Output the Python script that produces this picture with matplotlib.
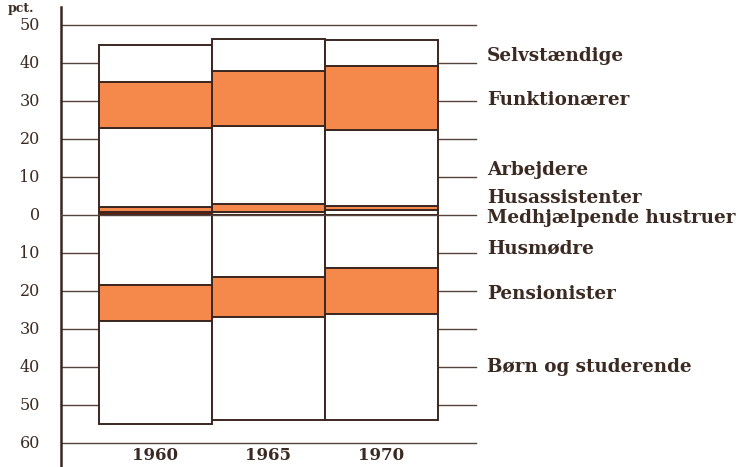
import numpy as np
import matplotlib
matplotlib.use("Agg")
import matplotlib.pyplot as plt

# data (pct.), above zero: erhvervsaktive, below zero: ikke-erhvervsaktive
years = ["1960", "1965", "1970"]
medhjaelpende = [0.8, 0.8, 1.4]
husassistenter = [1.4, 2.0, 1.0]
arbejdere = [20.8, 20.6, 20.0]
funktionaerer = [12.1, 14.5, 16.7]
selvstaendige = [9.7, 8.4, 7.0]
husmoedre = [18.3, 16.2, 14.0]
pensionister = [9.5, 10.6, 12.1]
boern = [27.2, 27.0, 27.8]

yticks = [50, 40, 30, 20, 10, 0, -10, -20, -30, -40, -50, -60]

labels = ["Selvstændige", "Funktionærer", "Arbejdere", "Husassistenter",
          "Medhjælpende hustruer", "Husmødre", "Pensionister", "Børn og studerende"]
label_y = [41.8, 30.3, 11.8, 4.6, -0.9, -8.7, -20.8, -40.0]

ORANGE = "#f5894b"
EDGE = "#3b2620"
TXT = "#3b2a22"
DARK = "#6b1e0e"

fig = plt.figure(figsize=(7.4, 4.67), dpi=100)
ax = fig.add_axes([0, 0, 1, 1])
ax.set_xlim(-1.372, 5.177)
ax.set_ylim(-66.3, 56.6)
ax.axis("off")

x = np.arange(len(years))
kw = dict(width=1.0, edgecolor=EDGE, linewidth=1.4, zorder=3)

# above zero
bottom = np.zeros(3)
ax.bar(x, medhjaelpende, bottom=bottom, color=[DARK, "#fff3ea", "white"], **kw)
bottom += medhjaelpende
ax.bar(x, husassistenter, bottom=bottom, color=ORANGE, **kw)
bottom += husassistenter
ax.bar(x, arbejdere, bottom=bottom, color="white", **kw)
bottom += arbejdere
ax.bar(x, funktionaerer, bottom=bottom, color=ORANGE, **kw)
bottom += funktionaerer
ax.bar(x, selvstaendige, bottom=bottom, color="white", **kw)

# below zero
bottom = np.zeros(3)
for vals, col in [(husmoedre, "white"), (pensionister, ORANGE), (boern, "white")]:
    v = -np.array(vals)
    ax.bar(x, v, bottom=bottom, color=col, **kw)
    bottom += v

# axis and tick lines
x_axis = -0.832
x_right = 2.84
ax.plot([x_axis, x_axis], [54.8, -66.3], color=EDGE, lw=1.8, zorder=4)
for t in yticks:
    if t in (50, 0, -60):
        ax.plot([x_axis, x_right], [t, t], color="#55433c", lw=1.0, zorder=4 if t == 0 else 1)
    else:
        ax.plot([x_axis, -0.5], [t, t], color="#55433c", lw=1.0, zorder=1)
        ax.plot([2.5, x_right], [t, t], color="#55433c", lw=1.0, zorder=1)
    ax.text(-1.02, t, str(abs(t)), ha="right", va="center", fontsize=11.5,
            family="DejaVu Serif", color=TXT)

for xi, yr in zip(x, years):
    ax.text(xi, -63.4, yr, ha="center", va="center", fontsize=12,
            family="DejaVu Serif", fontweight="bold", color=TXT)

ax.text(-1.30, 56.2, "pct.", ha="left", va="top", fontsize=9,
        family="DejaVu Serif", fontweight="bold", color=TXT)

for lab, ly in zip(labels, label_y):
    ax.text(2.94, ly, lab, ha="left", va="center", fontsize=13.2,
            family="DejaVu Serif", fontweight="bold", color=TXT)

fig.savefig("out.png", dpi=100)
